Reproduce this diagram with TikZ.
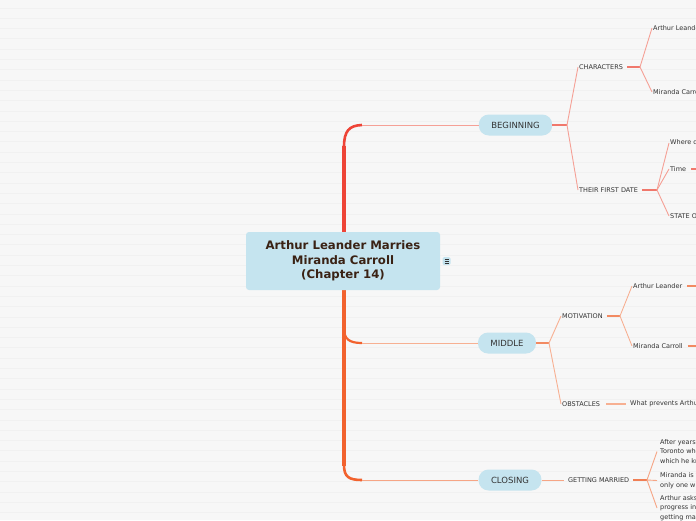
\documentclass[tikz,border=0pt]{standalone}
\usepackage{fontspec}
\setmainfont{DejaVu Sans}
\definecolor{bgc}{HTML}{F7F7F7}
\definecolor{stripec}{HTML}{F1F1F1}
\definecolor{pillc}{HTML}{C5E4EF}
\definecolor{titlec}{HTML}{3A2214}
\definecolor{txtc}{HTML}{333333}
\definecolor{trunkred}{HTML}{EE4437}
\definecolor{trunkor}{HTML}{F2622E}
\definecolor{begline}{HTML}{F5A096}
\definecolor{begstub}{HTML}{F0786C}
\definecolor{midline}{HTML}{F7B092}
\definecolor{midstub}{HTML}{F28A62}
\definecolor{cloline}{HTML}{F6A585}
\definecolor{clostub}{HTML}{F07F55}
\tikzset{
  pill/.style={rectangle, rounded corners=10pt, fill=pillc, minimum height=21pt, inner xsep=12.5pt, inner ysep=0pt, font=\fontsize{8.5}{10}\selectfont, text=txtc},
  sub/.style={anchor=west, inner sep=1pt, font=\fontsize{6.5}{9.5}\selectfont, text=txtc},
  leaf/.style={anchor=west, inner sep=1pt, align=left, font=\fontsize{6.5}{9.5}\selectfont, text=txtc},
  bline/.style={draw=begline, line width=0.9pt},
  bstub/.style={draw=begstub, line width=1.8pt},
  mline/.style={draw=midline, line width=0.9pt},
  mstub/.style={draw=midstub, line width=1.8pt},
  cline/.style={draw=cloline, line width=0.9pt},
  cstub/.style={draw=clostub, line width=1.8pt}
}
\begin{document}
\begin{tikzpicture}[x=1pt,y=-1pt]
\useasboundingbox (0,0) rectangle (696,520);
\clip (0,0) rectangle (696,520);
\fill[bgc] (0,0) rectangle (696,520);
\foreach \i in {0,...,50} \draw[stripec, line width=1pt] (0,8+\i*10.3) -- (696,8+\i*10.3);

% trunk
\draw[trunkred, line width=4pt] (344,262) -- (344,146);
\draw[trunkred, line width=2.6pt] (344,147) .. controls (344,131) and (349,125.5) .. (362,125);
\draw[trunkor, line width=4pt] (344,262) -- (344,466);
\draw[trunkor, line width=2.2pt] (344,328) .. controls (344,339) and (349,343) .. (362,343);
\draw[trunkor, line width=2.6pt] (344,465) .. controls (344,477) and (349,480) .. (362,480);

% central node
\node[rectangle, rounded corners=3pt, fill=pillc, minimum width=194pt, minimum height=58pt, align=center, text=titlec, font=\fontsize{11.7}{14.5}\selectfont\bfseries] (center) at (343,261) {Arthur Leander Marries\\Miranda Carroll\\(Chapter 14)};
\node[rectangle, rounded corners=1.5pt, fill=pillc, minimum width=8pt, minimum height=8pt, inner sep=0pt] (icon) at (446.5,261) {};
\draw[txtc, line width=0.5pt] ([xshift=-2pt,yshift=-2pt]icon.center) -- ([xshift=2pt,yshift=-2pt]icon.center)
  ([xshift=-2pt]icon.center) -- ([xshift=2pt]icon.center)
  ([xshift=-2pt,yshift=2pt]icon.center) -- ([xshift=2pt,yshift=2pt]icon.center);

% main pills
\node[pill] (beg) at (515.5,125) {BEGINNING};
\node[pill] (mid) at (507,343) {MIDDLE};
\node[pill] (clo) at (510,480) {CLOSING};

\draw[begline, line width=1pt] (362,125) -- (beg.west);
\draw[midline, line width=1pt] (362,343) -- (mid.west);
\draw[cloline, line width=1pt] (362,480) -- (clo.west);

% BEGINNING subtree
\node[sub] (chars) at (578,67) {CHARACTERS};
\node[sub] (date) at (578,190) {THEIR FIRST DATE};
\coordinate (fb) at (567,125);
\draw[bstub] (beg.east) -- (fb);
\draw[bline] (fb) -- (chars.west);
\draw[bline] (fb) -- (date.west);

\node[sub] (arthur1) at (652,28) {Arthur Leander};
\node[sub] (miranda1) at (652,92) {Miranda Carroll};
\coordinate (fc) at (640,67);
\draw[bstub] ([xshift=3pt]chars.east) -- (fc);
\draw[bline] (fc) -- (arthur1.west);
\draw[bline] (fc) -- (miranda1.west);

\node[sub] (where) at (669,143) {Where did they go};
\node[sub] (time) at (669,169) {Time};
\node[sub] (state) at (669,216) {STATE OF MIND};
\coordinate (fd) at (657,190);
\draw[bstub] ([xshift=3pt]date.east) -- (fd);
\draw[bline] (fd) -- (where.west);
\draw[bline] (fd) -- (time.west);
\draw[bline] (fd) -- (state.west);
\coordinate (timetail) at (700,169);
\draw[begstub, line width=1.2pt] ([xshift=4pt]time.east) -- (timetail);

% MIDDLE subtree
\node[sub] (motiv) at (561,316) {MOTIVATION};
\node[sub] (obst) at (561,404) {OBSTACLES};
\coordinate (fm) at (549,343);
\draw[mstub] (mid.east) -- (fm);
\draw[mline] (fm) -- (motiv.west);
\draw[mline] (fm) -- (obst.west);

\node[sub] (arthur2) at (632,286) {Arthur Leander};
\node[sub] (miranda2) at (632,346) {Miranda Carroll};
\coordinate (fmo) at (620,316);
\draw[mstub] ([xshift=3pt]motiv.east) -- (fmo);
\draw[mline] (fmo) -- (arthur2.west);
\draw[mline] (fmo) -- (miranda2.west);
\coordinate (a2tail) at (700,286);
\coordinate (m2tail) at (700,346);
\draw[midstub, line width=1.8pt] ([xshift=4pt]arthur2.east) -- (a2tail);
\draw[midstub, line width=1.8pt] ([xshift=4pt]miranda2.east) -- (m2tail);

\node[sub] (prevents) at (629,404) {What prevents Arthur};
\draw[mline, line width=1.2pt] ([xshift=5pt]obst.east) -- ([xshift=-3pt]prevents.west);

% CLOSING subtree
\node[sub] (getmar) at (567,480) {GETTING MARRIED};
\draw[cline] (clo.east) -- ([xshift=-3pt]getmar.west);
\node[leaf] (after) at (659,451.5) {After years of\\Toronto where\\which he knew};
\node[leaf] (mirandais) at (659,480.5) {Miranda is the\\only one who};
\node[leaf] (arthurasks) at (659,508) {Arthur asks her\\progress in his\\getting married};
\coordinate (fg) at (647,480);
\draw[cstub] ([xshift=3pt]getmar.east) -- (fg);
\draw[cline] (fg) -- ([xshift=-2pt]after.west);
\draw[cline] (fg) -- ([xshift=-2pt]mirandais.west);
\draw[cline] (fg) -- ([xshift=-2pt]arthurasks.west);
\end{tikzpicture}
\end{document}
